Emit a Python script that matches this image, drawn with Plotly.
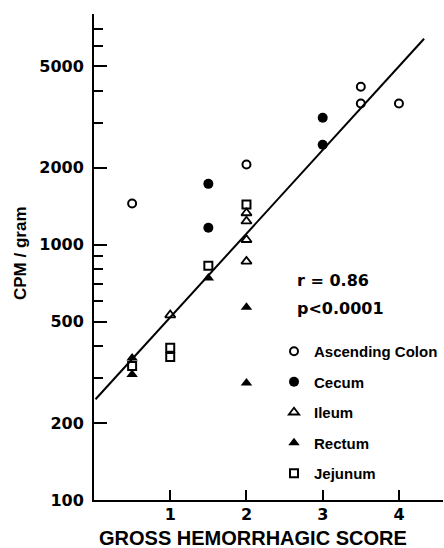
import plotly.graph_objects as go

# ---- data ----
asc_x = [0.5, 2, 3.5, 3.5, 4]
asc_y = [1450, 2060, 4150, 3570, 3570]

cec_x = [1.5, 1.5, 3, 3]
cec_y = [1730, 1165, 2460, 3140]

ile_x = [1, 2, 2, 2, 2]
ile_y = [530, 1330, 1235, 1045, 860]

rec_x = [0.5, 0.5, 1.5, 2, 2]
rec_y = [360, 310, 740, 568, 287]

jej_x = [0.5, 1, 1, 1.5, 2]
jej_y = [335, 395, 363, 827, 1435]

reg_x = [0.02, 4.33]
reg_y = [248, 6400]

x_ticks = [1, 2, 3, 4]
x_ticktext = ["1", "2", "3", "4"]
y_ticks = [100, 200, 500, 1000, 2000, 5000]
y_ticktext = ["100", "200", "500", "1000", "2000", "5000"]
y_minor = [300, 400, 600, 700, 800, 900, 3000, 4000, 6000, 7000, 8000]

stats_r = "r = 0.86"
stats_p = "p<0.0001"

TICKFONT = dict(family="DejaVu Sans", size=16, color="black", weight="bold")
LABFONT = dict(family="Liberation Sans", size=15, color="black", weight="bold")

fig = go.Figure()

fig.add_trace(go.Scatter(x=reg_x, y=reg_y, mode="lines",
                         line=dict(color="black", width=2), showlegend=False))

fig.add_trace(go.Scatter(x=asc_x, y=asc_y, mode="markers", name="Ascending Colon",
                         legendgroup="a",
                         marker=dict(symbol="circle-open", size=8, color="black",
                                     line=dict(width=2, color="black"))))
fig.add_trace(go.Scatter(x=cec_x, y=cec_y, mode="markers", name="Cecum",
                         legendgroup="b",
                         marker=dict(symbol="circle", size=10, color="black",
                                     line=dict(width=0))))
fig.add_trace(go.Scatter(x=ile_x, y=ile_y, mode="markers", name="Ileum",
                         legendgroup="c",
                         marker=dict(symbol="triangle-up-open", size=9, color="black",
                                     line=dict(width=1.8, color="black"))))
fig.add_trace(go.Scatter(x=rec_x, y=rec_y, mode="markers", name="Rectum",
                         legendgroup="d",
                         marker=dict(symbol="triangle-up", size=10, color="black",
                                     line=dict(width=0))))
fig.add_trace(go.Scatter(x=jej_x, y=jej_y, mode="markers", name="Jejunum",
                         legendgroup="e",
                         marker=dict(symbol="square-open", size=8, color="black",
                                     line=dict(width=2, color="black"))))

L, R, T, B = 94, 1, 14, 48
W, H = 444, 548
pw = W - L - R
ph = H - T - B


def px_x(p):
    return (p - L) / pw


def px_y(p):
    return (H - B - p) / ph


fig.update_layout(
    width=W, height=H,
    margin=dict(l=L, r=R, t=T, b=B, autoexpand=False),
    paper_bgcolor="white", plot_bgcolor="white",
    showlegend=True,
    legend=dict(x=px_x(274), y=px_y(335), xanchor="left", yanchor="top",
                font=LABFONT, tracegroupgap=8, bgcolor="rgba(0,0,0,0)",
                borderwidth=0, itemclick=False),
    xaxis=dict(range=[0.0, 4.578], showgrid=False, zeroline=False,
               showline=True, linecolor="black", linewidth=2,
               tickmode="array", tickvals=x_ticks, ticktext=x_ticktext,
               ticks="inside", ticklen=10, tickwidth=2, tickcolor="black",
               tickfont=TICKFONT, ticklabelstandoff=-1),
    yaxis=dict(type="log", range=[2, 3.90309], showgrid=False, zeroline=False,
               showline=True, linecolor="black", linewidth=2,
               tickmode="array", tickvals=y_ticks, ticktext=y_ticktext,
               ticks="inside", ticklen=13, tickwidth=2, tickcolor="black",
               tickfont=TICKFONT, ticklabelstandoff=5,
               minor=dict(tickmode="array", tickvals=y_minor, ticks="inside",
                          ticklen=9, tickwidth=2, tickcolor="black", showgrid=False)),
    annotations=[
        dict(text=stats_r, xref="paper", yref="paper", x=px_x(295), y=px_y(280),
             xanchor="left", yanchor="middle", showarrow=False, font=TICKFONT),
        dict(text=stats_p, xref="paper", yref="paper", x=px_x(295), y=px_y(308),
             xanchor="left", yanchor="middle", showarrow=False, font=TICKFONT),
        dict(text="CPM / gram", xref="paper", yref="paper", x=px_x(20), y=px_y(253),
             xanchor="center", yanchor="middle", showarrow=False, textangle=-90,
             font=dict(family="Liberation Sans", size=17, color="black", weight="bold")),
        dict(text="GROSS HEMORRHAGIC SCORE", xref="paper", yref="paper",
             x=px_x(252.5), y=px_y(537.5), xanchor="center", yanchor="middle",
             showarrow=False,
             font=dict(family="Liberation Sans", size=20, color="black", weight="bold")),
    ],
)

fig.write_html("out.html",
               config={"displayModeBar": False},
               post_script="document.body.style.margin='0';document.body.style.padding='0';")
